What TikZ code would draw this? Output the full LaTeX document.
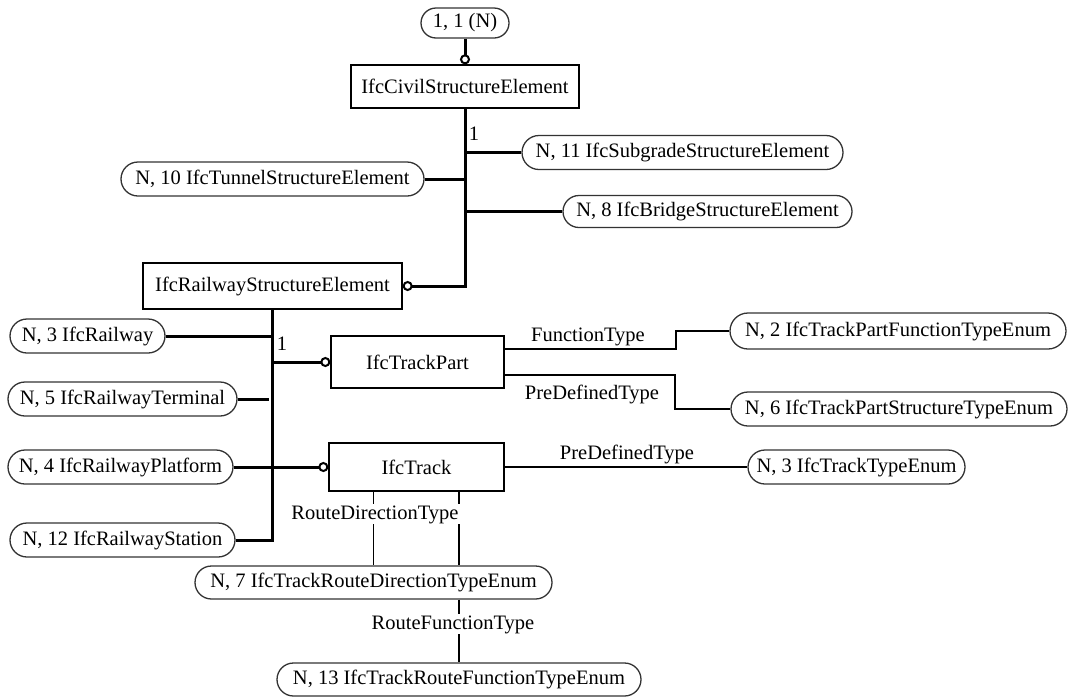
\documentclass[tikz,border=0pt]{standalone}
\usepackage{fontspec}
\setmainfont{Liberation Serif}
\usetikzlibrary{calc}
\begin{document}
\begin{tikzpicture}[x=1pt,y=-1pt,
  every node/.style={font=\fontsize{20.5}{24}\selectfont},
  pill/.style={draw=black!80, line width=1.3pt, rounded corners=17pt, minimum height=34pt, inner sep=0pt},
  box/.style={draw=black, line width=1.3pt, inner sep=0pt},
  heavy/.style={line width=3pt},
  light/.style={line width=1.3pt},
  ringnode/.style={circle, draw=black, fill=white, line width=2pt, inner sep=0pt, minimum size=8pt},
  lbl/.style={inner sep=1pt, anchor=base}
]
\useasboundingbox (0,0) rectangle (1069,697);
\fill[white] (0,0) rectangle (1069,697);

% nodes
\node[pill, minimum width=88pt, minimum height=30pt, rounded corners=15pt] (top) at (465,23) {1, 1 (N)};
\node[box, minimum width=228pt, minimum height=43pt] (civil) at (465,86.5) {IfcCivilStructureElement};
\node[pill, minimum width=321pt] (subgrade) at (682.5,152.5) {N, 11 IfcSubgradeStructureElement};
\node[pill, minimum width=303pt] (tunnel) at (272.5,179) {N, 10 IfcTunnelStructureElement};
\node[pill, minimum width=289pt, minimum height=32pt, rounded corners=16pt] (bridge) at (707.5,211.5) {N, 8 IfcBridgeStructureElement};
\node[box, minimum width=259pt, minimum height=46pt] (rse) at (272.5,286) {IfcRailwayStructureElement};
\node[pill, minimum width=155pt] (railway) at (87.5,336) {N, 3 IfcRailway};
\node[pill, minimum width=229pt] (terminal) at (122.5,399) {N, 5 IfcRailwayTerminal};
\node[pill, minimum width=225pt] (platform) at (120.5,467) {N, 4 IfcRailwayPlatform};
\node[pill, minimum width=225pt] (station) at (122.5,540) {N, 12 IfcRailwayStation};
\node[box, minimum width=173pt, minimum height=52pt] (tpart) at (417.5,362) {IfcTrackPart};
\node[box, minimum width=175pt, minimum height=48pt] (track) at (416.5,467) {IfcTrack};
\node[pill, minimum width=336pt, minimum height=36pt, rounded corners=18pt] (fenum) at (898,331) {N, 2 IfcTrackPartFunctionTypeEnum};
\node[pill, minimum width=336pt] (senum) at (899,409) {N, 6 IfcTrackPartStructureTypeEnum};
\node[pill, minimum width=217pt] (tenum) at (856.5,467) {N, 3 IfcTrackTypeEnum};
\node[pill, minimum width=357pt, minimum height=33pt, rounded corners=16.5pt] (rdenum) at (373.5,582.5) {N, 7 IfcTrackRouteDirectionTypeEnum};
\node[pill, minimum width=364pt, minimum height=33pt, rounded corners=16.5pt] (rfenum) at (459,679.5) {N, 13 IfcTrackRouteFunctionTypeEnum};

% upper tree
\draw[heavy] (top.south) -- (civil.north) node[ringnode, pos=1, anchor=south] (r1) {};
\draw[heavy] (civil.south) |- (rse.east) node[ringnode, pos=1, anchor=west] (r2) {};
\draw[heavy] (civil.south |- subgrade.west) -- (subgrade.west);
\draw[heavy] (tunnel.east) -- (tunnel.east -| civil.south);
\draw[heavy] (civil.south |- bridge.west) -- (bridge.west);
\node (one1) at (474,134) {1};

% lower tree
\draw[heavy] (rse.south) -- ($(rse.south |- station.east)+(0,1.5)$);
\draw[heavy] (railway.east) -- (railway.east -| rse.south);
\draw[heavy] (terminal.east) -- ($(terminal.east -| rse.south)+(-3.5,0)$);
\draw[heavy] (station.east) -- (station.east -| rse.south);
\draw[heavy] (rse.south |- tpart.west) -- (tpart.west) node[ringnode, pos=1, anchor=east] (r3) {};
\draw[heavy] (platform.east) -- (track.west) node[ringnode, pos=1, anchor=east] (r4) {};
\node (one2) at (282,344) {1};

% attribute links
\draw[light] ($(tpart.east)+(0,-13)$) -- (676,349) |- (fenum.west);
\node[lbl] (ft) at (588,341) {FunctionType};
\draw[light] ($(tpart.east)+(0,13)$) -- (675,375) |- (senum.west);
\node[lbl] (pdt1) at (592,399) {PreDefinedType};
\draw[light] (track.east) -- (tenum.west);
\node[lbl] (pdt2) at (627,459) {PreDefinedType};
\draw[light] (rdenum.north |- track.south) -- (rdenum.north);
\draw[light] (rfenum.north |- track.south) -- (rfenum.north |- rdenum.north);
\draw[light] (rfenum.north |- rdenum.south) -- (rfenum.north);
\node[lbl, fill=white] (rdt) at (375,519) {RouteDirectionType};
\node[lbl, fill=white] (rft) at (453,629) {RouteFunctionType};
\end{tikzpicture}
\end{document}
